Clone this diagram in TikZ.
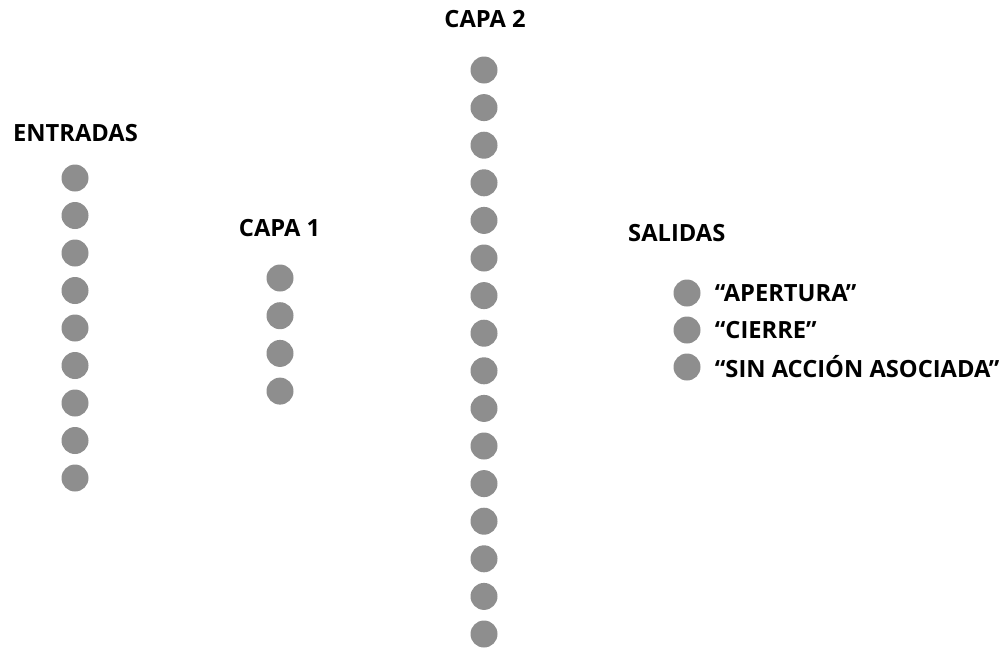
\documentclass[tikz,border=0pt]{standalone}
\usepackage{fontspec}
\setmainfont{Open Sans}
\begin{document}
\definecolor{neuron}{RGB}{142,142,142}
\tikzset{
  neuronnode/.style={circle, fill=neuron, draw=none, minimum size=27pt, inner sep=0pt},
  title/.style={font=\fontsize{23.7}{28}\selectfont\bfseries, text=black, inner sep=0pt},
  outlabel/.style={font=\fontsize{23.7}{28}\selectfont\bfseries, text=black, inner sep=0pt, anchor=west}
}
\begin{tikzpicture}[x=1pt,y=-1pt]
  \useasboundingbox (0,0) rectangle (1008,648);
  % layer titles
  \node[title] (tin) at (75.5,133) {ENTRADAS};
  \node[title] (tc1) at (279.5,228) {CAPA 1};
  \node[title] (tc2) at (485,19.5) {CAPA 2};
  \node[title, anchor=west] (tout) at (628,233) {SALIDAS};
  % input neurons
  \foreach \i in {1,...,9}
    \node[neuronnode] (in\i) at (75, {178+(\i-1)*37.5}) {};
  % first hidden layer
  \foreach \i in {1,...,4}
    \node[neuronnode] (ha\i) at (280, {278+(\i-1)*37.7}) {};
  % second hidden layer
  \foreach \i in {1,...,16}
    \node[neuronnode] (hb\i) at (484, {70+(\i-1)*37.6}) {};
  % output neurons with their labels
  \node[neuronnode] (out1) at (687,293) {};
  \node[neuronnode] (out2) at (687,330) {};
  \node[neuronnode] (out3) at (687,367) {};
  \node[outlabel] (lab1) at ([xshift=14pt]out1.east) {“APERTURA”};
  \node[outlabel] (lab2) at ([xshift=14pt]out2.east) {“CIERRE”};
  \node[outlabel] (lab3) at ([xshift=14pt]out3.east) {“SIN ACCIÓN ASOCIADA”};
\end{tikzpicture}
\end{document}
